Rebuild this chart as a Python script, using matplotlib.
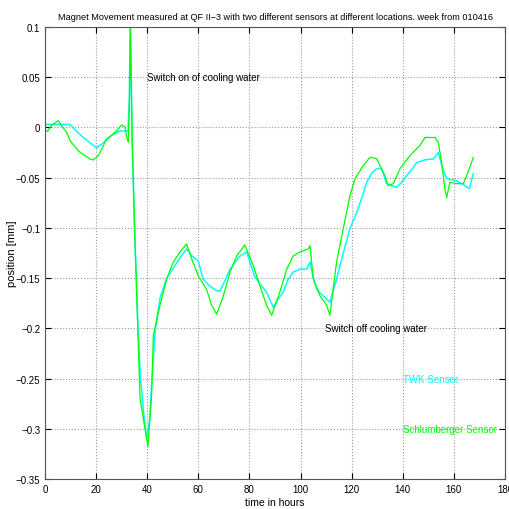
import matplotlib
matplotlib.use('Agg')
import matplotlib.pyplot as plt

# TWK sensor (cyan)
twk_t = [0, 2, 9.8, 12, 15, 18, 20.3, 23, 26, 29, 32.5, 33.0, 33.4, 34, 35, 36.4, 37.4,
         39, 39.8, 41, 41.7, 43.2, 45, 47.6, 50.2, 52.8, 55.4, 57.5, 60, 61.9, 64.5,
         67.2, 68.5, 70.5, 72.4, 76.3, 78.9, 82, 84.5, 86.7, 89.3, 91, 93.2, 95, 97.1,
         99.8, 102.4, 103.7, 105, 106.3, 109, 111.5, 114.1, 116.7, 119.3, 122, 124,
         125.9, 128, 129.8, 131.7, 133.7, 135.5, 137.6, 139.5, 141.5, 143.5, 145.4,
         149, 151.9, 153.9, 155.5, 157.2, 161, 164.3, 166, 167.6]
twk_v = [0.003, 0.003, 0.003, -0.003, -0.01, -0.016, -0.0205, -0.015, -0.008, -0.0035,
         -0.0035, 0.03, 0.105, 0.0, -0.1, -0.2, -0.25, -0.295, -0.31, -0.29, -0.257,
         -0.2, -0.17, -0.15, -0.14, -0.13, -0.121, -0.128, -0.133, -0.151, -0.158,
         -0.1625, -0.163, -0.152, -0.141, -0.128, -0.124, -0.148, -0.157, -0.164,
         -0.179, -0.172, -0.164, -0.152, -0.144, -0.141, -0.141, -0.134, -0.15, -0.161,
         -0.168, -0.174, -0.151, -0.125, -0.101, -0.0845, -0.07, -0.0545, -0.045,
         -0.041, -0.041, -0.056, -0.058, -0.0596, -0.055, -0.048, -0.042, -0.035,
         -0.032, -0.0314, -0.025, -0.04, -0.051, -0.053, -0.058, -0.061, -0.046]

# Schlumberger sensor (green)
sch_t = [0, 1, 2.5, 5.2, 7, 8.5, 9.8, 12, 13.7, 15, 17.6, 18.9, 20.9, 22.5, 24.1, 26,
         28, 30, 31.2, 32, 32.6, 33.0, 33.4, 34.2, 35.2, 36.3, 37.2, 38.5, 40.3, 41.7,
         42.4, 45, 47.6, 50.2, 52.8, 55.4, 57.4, 60, 63.2, 65.2, 67.2, 69.8, 72.4, 75,
         78.2, 81.5, 84.1, 86.7, 88.7, 91.9, 94.6, 97.1, 99.8, 103, 103.7, 105, 107.6,
         110.2, 111.5, 112.8, 114.1, 116.7, 119.3, 121.3, 124.5, 127.2, 129.8, 131.1,
         133, 134.3, 136.3, 138.9, 142.8, 146.7, 148.7, 152.6, 153.9, 155.2, 156.5,
         157.2, 158.4, 161, 163.7, 165, 167.6]
sch_v = [-0.002, -0.004, 0.002, 0.0067, 0.0, -0.005, -0.0132, -0.02, -0.0248, -0.027,
         -0.0314, -0.0324, -0.028, -0.02, -0.0115, -0.008, -0.0033, 0.0024, 0.001,
         -0.01, -0.0145, 0.02, 0.1, -0.02, -0.11, -0.2, -0.27, -0.29, -0.318, -0.267,
         -0.207, -0.177, -0.151, -0.134, -0.124, -0.116, -0.131, -0.148, -0.161,
         -0.177, -0.186, -0.1675, -0.144, -0.128, -0.117, -0.1377, -0.1576, -0.177,
         -0.187, -0.164, -0.141, -0.128, -0.124, -0.121, -0.1177, -0.151, -0.1675,
         -0.177, -0.187, -0.16, -0.134, -0.101, -0.068, -0.0513, -0.038, -0.0297,
         -0.031, -0.038, -0.048, -0.058, -0.056, -0.041, -0.028, -0.018, -0.01, -0.01,
         -0.0148, -0.035, -0.0613, -0.07, -0.0546, -0.056, -0.056, -0.048, -0.03]

plt.rcParams['font.family'] = ['Liberation Sans', 'DejaVu Sans']

fig = plt.figure(figsize=(5.1, 5.1), dpi=100)
ax = fig.add_axes([45/510, 30/510, 460/510, 452/510])

ax.plot(twk_t, twk_v, color='#00ffff', lw=1.1)
ax.plot(sch_t, sch_v, color='#00ff00', lw=0.9)

ax.set_xlim(0, 180)
ax.set_ylim(-0.35, 0.1)
ax.set_xticks(range(0, 181, 20))
ax.set_yticks([-0.35, -0.3, -0.25, -0.2, -0.15, -0.1, -0.05, 0, 0.05, 0.1])
ax.set_yticklabels(['\u22120.35', '\u22120.3', '\u22120.25', '\u22120.2', '\u22120.15',
                    '\u22120.1', '\u22120.05', '0', '0.05', '0.1'])
ax.grid(True, linestyle=':', color='#999999', lw=0.8)
ax.tick_params(direction='in', top=True, right=True, labelsize=7, length=4)
for s in ax.spines.values():
    s.set_color('#555555')

ax.set_xlabel('time in hours', fontsize=7.5, labelpad=2)
ax.set_ylabel('position [mm]', fontsize=8, va='center')
ax.yaxis.set_label_coords(-0.072, 0.5)
ax.set_title('Magnet Movement measured at QF II\u22123 with two different sensors at different locations. week from 010416',
             fontsize=6.6, pad=6)

ax.text(40, 0.05, 'Switch on of cooling water', fontsize=7, va='center')
ax.text(109.5, -0.2, 'Switch off cooling water', fontsize=7, va='center')
ax.text(140, -0.25, 'TWK Sensor', fontsize=7, va='center', color='#00ffff')
ax.text(140, -0.3, 'Schlumberger Sensor', fontsize=7, va='center', color='#00ff00')

fig.savefig('out.png', dpi=100)
